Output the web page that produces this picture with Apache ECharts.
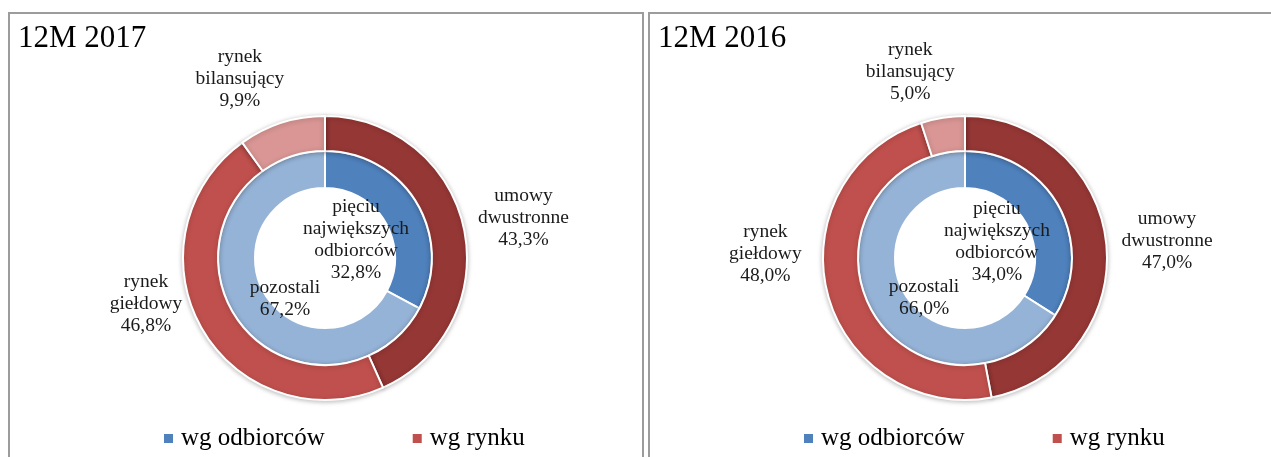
<!DOCTYPE html>
<html lang="pl">

<head>
    <meta charset="UTF-8">
    <title>Struktura sprzedaży</title>
    <style>
        html,
        body {
            margin: 0;
            padding: 0;
            background: #fff;
            overflow: hidden;
            width: 1271px;
            height: 457px;
        }

        .panel {
            position: absolute;
            top: 12px;
            border: 2px solid #9c9c9c;
            background: #fff;
        }

        .panel1 {
            left: 8px;
        }

        .panel2 {
            left: 648px;
        }

        .chart {
            width: 632px;
            height: 460px;
        }
    </style>
</head>

<body>
    <div class="panel panel1">
        <div id="chart2017" class="chart"></div>
    </div>
    <div class="panel panel2">
        <div id="chart2016" class="chart" style="width:660px"></div>
    </div>
    <script src="https://cdn.jsdelivr.net/npm/echarts@6/dist/echarts.min.js"></script>
    <script>
        // dane
        var titles = ['12M 2017', '12M 2016'];
        var seriesNames = ['wg odbiorców', 'wg rynku'];

        var buyerNames = ['pięciu największych odbiorców', 'pozostali'];
        var buyers2017 = [32.8, 67.2];
        var buyers2016 = [34.0, 66.0];

        var marketNames = ['umowy dwustronne', 'rynek giełdowy', 'rynek bilansujący'];
        var market2017 = [43.3, 46.8, 9.9];
        var market2016 = [47.0, 48.0, 5.0];

        // style
        var buyerColors = ['#4f81bd', '#95b3d7'];
        var marketColors = ['#953735', '#c0504d', '#d99694'];
        // podpisy byly recznie przesuniete w oryginale
        var labelNudge = {
            'pięciu największych odbiorców': [-11, 7],
            'pozostali': [2, 16],
            'umowy dwustronne': [0, 2],
            'rynek giełdowy': [-3, -55],
            'rynek bilansujący': [-23, 14]
        };

        var FONT = '"Liberation Serif", "DejaVu Serif", serif';
        var CENTER = [315, 244];

        function toData(names, values, colors) {
            return names.map(function(n, i) {
                return {
                    name: n,
                    value: values[i],
                    itemStyle: colors ? { color: colors[i] } : undefined
                };
            });
        }

        function labelText(p) {
            return p.name.split(' ').join('\n') + '\n' + p.value.toFixed(1).replace('.', ',') + '%';
        }

        // niewidoczny pierscien tylko do podpisow
        function labelRing(name, names, values, radius) {
            return {
                name: name,
                type: 'pie',
                silent: true,
                center: CENTER,
                radius: radius,
                startAngle: 90,
                avoidLabelOverlap: false,
                itemStyle: { color: 'rgba(0,0,0,0)' },
                label: {
                    show: true,
                    position: 'inside',
                    formatter: labelText,
                    color: '#1a1a1a',
                    fontFamily: FONT,
                    fontSize: 19.5,
                    lineHeight: 22,
                    align: 'center'
                },
                labelLayout: function(params) {
                    var s = labelNudge[names[params.dataIndex]] || [0, 0];
                    return { dx: s[0], dy: s[1] };
                },
                labelLine: { show: false },
                emphasis: { disabled: true },
                z: 5,
                data: toData(names, values)
            };
        }

        function drawChart(domId, title, buyers, market) {
            var myChart = echarts.init(document.getElementById(domId));
            var option = {
                animation: false,
                textStyle: { fontFamily: FONT },
                title: {
                    text: title,
                    left: 3,
                    top: 4,
                    textStyle: {
                        fontFamily: FONT,
                        fontSize: 31,
                        fontWeight: 'normal',
                        color: '#000'
                    }
                },
                legend: {
                    left: 152,
                    top: 412,
                    padding: 0,
                    icon: 'rect',
                    itemWidth: 11,
                    itemHeight: 11,
                    itemGap: 86,
                    selectedMode: false,
                    textStyle: {
                        fontFamily: FONT,
                        fontSize: 25,
                        color: '#000',
                        padding: [0, 0, 0, 2]
                    },
                    data: [
                        { name: seriesNames[0], itemStyle: { color: buyerColors[0] }, textStyle: { fontFamily: FONT } },
                        { name: seriesNames[1], itemStyle: { color: marketColors[1] }, textStyle: { fontFamily: FONT } }
                    ]
                },
                series: [{
                    name: seriesNames[0],
                    type: 'pie',
                    center: CENTER,
                    radius: [70, 107],
                    startAngle: 90,
                    label: { show: false },
                    labelLine: { show: false },
                    emphasis: { disabled: true },
                    itemStyle: {
                        borderColor: '#fff',
                        borderWidth: 2
                    },
                    data: toData(buyerNames, buyers, buyerColors)
                }, {
                    name: seriesNames[1],
                    type: 'pie',
                    center: CENTER,
                    radius: [107, 142],
                    startAngle: 90,
                    label: { show: false },
                    labelLine: { show: false },
                    emphasis: { disabled: true },
                    itemStyle: {
                        borderColor: '#fff',
                        borderWidth: 2,
                        shadowBlur: 5,
                        shadowColor: 'rgba(0,0,0,0.25)',
                        shadowOffsetY: 1
                    },
                    data: toData(marketNames, market, marketColors)
                },
                labelRing(seriesNames[0], buyerNames, buyers, [0, 92]),
                labelRing(seriesNames[1], marketNames, market, [190, 210])
                ]
            };
            myChart.setOption(option);
            return myChart;
        }

        drawChart('chart2017', titles[0], buyers2017, market2017);
        drawChart('chart2016', titles[1], buyers2016, market2016);
    </script>
</body>

</html>
